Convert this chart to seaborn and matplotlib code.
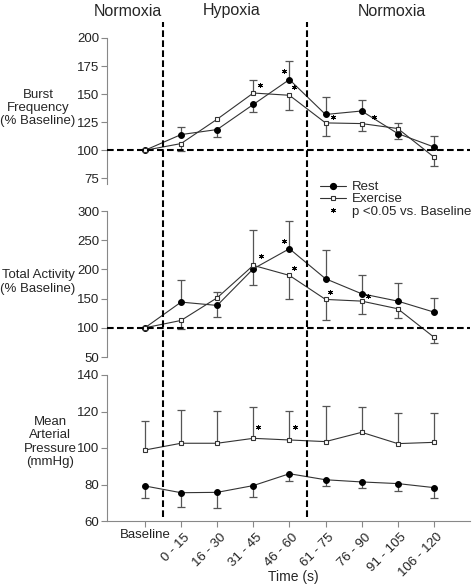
import numpy as np
import pandas as pd
import matplotlib
matplotlib.use('Agg')
import matplotlib.pyplot as plt
import seaborn as sns
from matplotlib.lines import Line2D
from matplotlib import transforms

# ---- data ----
time_labels = ['Baseline', '0 - 15', '16 - 30', '31 - 45', '46 - 60',
               '61 - 75', '76 - 90', '91 - 105', '106 - 120']

# burst frequency (% baseline); err > 0 drawn up, err < 0 drawn down
bf_rest = [100, 114, 118.5, 140.8, 163, 131.9, 135, 114.9, 103]
bf_rest_err = [0, 7, -6.5, -7, 16.5, 16, 10, -5, 10]
bf_ex = [100, 106, 127.7, 151, 149, 124.4, 123.8, 119.4, 94]
bf_ex_err = [0, -6.5, 0, 12, -13, -11.5, -7, 5, -8]
bf_star_x = [3.19, 3.86, 4.13, 5.2, 6.33]
bf_star_y = [158, 170.5, 156, 129.5, 129.5]

# total activity (% baseline)
ta_rest = [100, 144, 138.3, 201, 235.4, 184, 158.3, 145.7, 126.9]
ta_rest_err = [0, 37, -19, -28.5, 47.6, 50, 32.6, 31.4, 24.5]
ta_ex = [100, 112.6, 151.4, 206.9, 189.7, 148.6, 145.7, 132.6, 84]
ta_ex_err = [0, -15, 10, 61, -41, -35, -21.7, -16, -9.7]
ta_star_x = [3.21, 3.86, 4.13, 5.12, 6.18]
ta_star_y = [222.9, 248, 202.9, 162, 153.7]

# mean arterial pressure (mmHg)
map_rest = [79.2, 75.5, 75.7, 79.4, 85.9, 82.6, 81.4, 80.5, 78.3]
map_rest_err = [-6.4, -8, -8.4, -6.4, -4, -3.2, -3.1, -3.9, -5.5]
map_ex = [98.9, 102.6, 102.6, 105.3, 104.4, 103.5, 108.6, 102.4, 103.1]
map_ex_err = [15.9, 18.2, 17.9, 17.3, 16.1, 19.7, 13.7, 16.6, 15.9]
map_star_x = [3.14, 4.15]
map_star_y = [111.3, 111.3]

phase_names = ['Normoxia', 'Hypoxia', 'Normoxia']
phase_bounds = [0.5, 4.5]

# ---- style ----
sns.set_style('ticks')
plt.rcParams['font.family'] = ['Liberation Sans', 'DejaVu Sans']
line_col = '#333333'
err_col = '#555555'
spine_col = '#888888'
dash = (0, (3.2, 1.6))
star_mk = (6, 2, 0)
circ_ms, sq_ms, star_ms = 4.2, 3.4, 3.6

pos = np.arange(len(time_labels))

fig = plt.figure(figsize=(4.75, 5.85), dpi=100)
left, width, h = 107 / 475, 363 / 475, 146 / 585
bottoms = [1 - 184 / 585, 1 - 357 / 585, 1 - 521 / 585]
axes = [fig.add_axes([left, b, width, h]) for b in bottoms]


def draw_panel(ax, rest, rest_err, ex, ex_err, star_x, star_y):
    df = pd.DataFrame({'pos': pos, 'rest': rest, 'ex': ex})
    for col, errs in [('rest', rest_err), ('ex', ex_err)]:
        v = df[col].to_numpy()
        e = np.array(errs)
        m = e != 0
        ax.vlines(pos[m], v[m], v[m] + e[m], color=err_col, lw=0.9, zorder=2)
        ax.plot(pos[m], v[m] + e[m], ls='none', marker='_', ms=6, mew=0.9,
                color=err_col, zorder=2)
    sns.lineplot(data=df, x='pos', y='rest', ax=ax, color=line_col, lw=0.8,
                 marker='o', markersize=circ_ms, markerfacecolor='black',
                 markeredgecolor='black', zorder=3)
    sns.lineplot(data=df, x='pos', y='ex', ax=ax, color=line_col, lw=0.8,
                 marker='s', markersize=sq_ms, markerfacecolor='white',
                 markeredgecolor=line_col, markeredgewidth=0.8, zorder=4)
    ax.plot(star_x, star_y, ls='none', marker=star_mk, ms=star_ms, mew=0.7,
            color='black', zorder=5)
    ax.set_xlim(-1.05, 9.0)
    ax.set_xlabel('')
    ax.set_ylabel('')
    for s in ['top', 'right']:
        ax.spines[s].set_visible(False)
    ax.spines['left'].set_color(spine_col)
    ax.spines['bottom'].set_color(spine_col)
    ax.tick_params(direction='out', length=4, width=0.8, color=spine_col,
                   labelcolor='#222222', labelsize=9.5, pad=1.5)


draw_panel(axes[0], bf_rest, bf_rest_err, bf_ex, bf_ex_err, bf_star_x, bf_star_y)
draw_panel(axes[1], ta_rest, ta_rest_err, ta_ex, ta_ex_err, ta_star_x, ta_star_y)
draw_panel(axes[2], map_rest, map_rest_err, map_ex, map_ex_err, map_star_x, map_star_y)

axes[0].set_ylim(70, 200)
axes[0].set_yticks([75, 100, 125, 150, 175, 200])
axes[1].set_ylim(50, 300)
axes[1].set_yticks([50, 100, 150, 200, 250, 300])
axes[2].set_ylim(60, 140)
axes[2].set_yticks([60, 80, 100, 120, 140])

for ax in axes[:2]:
    ax.spines['bottom'].set_visible(False)
    ax.set_xticks([])
    ax.axhline(100, color='black', ls=dash, lw=1.5, zorder=6)

ax3 = axes[2]
ax3.set_xticks(pos)
ax3.set_xticklabels(time_labels)
for i, lab in enumerate(ax3.get_xticklabels()):
    if i == 0:
        lab.set_rotation(0)
        lab.set_ha('center')
    else:
        lab.set_rotation(45)
        lab.set_ha('right')
        lab.set_va('center')
        lab.set_rotation_mode('anchor')
        lab.set_transform(lab.get_transform() + transforms.ScaledTranslation(
            5 / 72, -5 / 72, fig.dpi_scale_trans))

# phase boundaries span all three panels
trans = transforms.blended_transform_factory(ax3.transData, fig.transFigure)
for xb in phase_bounds:
    fig.add_artist(Line2D([xb, xb], [1 - 517 / 585, 1 - 22 / 585], transform=trans,
                          color='black', ls=dash, lw=1.5, zorder=10))

# phase titles
for name, xc in zip(phase_names, [128, 232, 392]):
    fig.text(xc / 475, 1 - 11 / 585, name, ha='center', va='center', fontsize=11.5)

fig.text(38 / 475, 1 - 108 / 585, 'Burst\nFrequency\n(% Baseline)', ha='center',
         va='center', fontsize=9.5, linespacing=1.15)
fig.text(38 / 475, 1 - 282 / 585, 'Total Activity\n(% Baseline)', ha='center',
         va='center', fontsize=9.5, linespacing=1.15)
fig.text(50 / 475, 1 - 442 / 585, 'Mean\nArterial\nPressure\n(mmHg)', ha='center',
         va='center', fontsize=9.5, linespacing=1.15)
fig.text(293 / 475, 1 - 577 / 585, 'Time (s)', ha='center', va='center', fontsize=10)

handles = [
    Line2D([], [], color=line_col, lw=0.8, marker='o', markersize=circ_ms,
           markerfacecolor='black', markeredgecolor='black'),
    Line2D([], [], color=line_col, lw=0.8, marker='s', markersize=sq_ms,
           markerfacecolor='white', markeredgecolor=line_col, markeredgewidth=0.8),
    Line2D([], [], ls='none', marker=star_mk, ms=star_ms, mew=0.7, color='black'),
]
fig.legend(handles, ['Rest', 'Exercise', 'p <0.05 vs. Baseline'],
           loc='upper left', bbox_to_anchor=(320 / 475, 1 - 181 / 585),
           frameon=False, fontsize=9.5, handlelength=2.0, handletextpad=0.4,
           labelspacing=0.0, borderpad=0, borderaxespad=0)

fig.savefig('out.png', dpi=100)
